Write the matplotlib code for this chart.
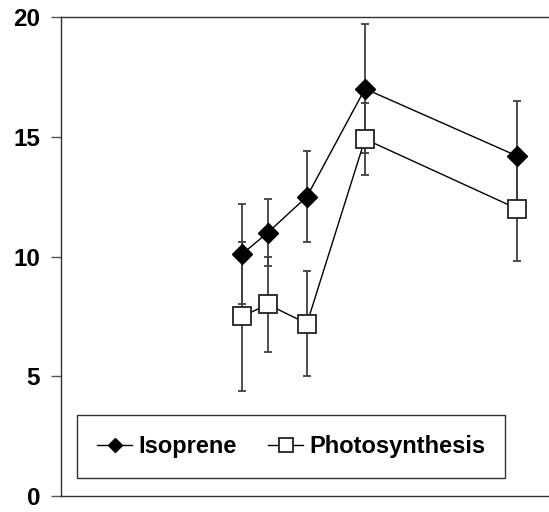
import matplotlib.pyplot as plt

plt.rcParams['font.family'] = ['Liberation Sans', 'DejaVu Sans']
plt.rcParams['font.weight'] = 'bold'

# x positions of the sampling points (no labels on the x axis)
x_pos = [37.1, 42.4, 50.4, 62.3, 93.4]

isoprene = [10.1, 11.0, 12.5, 17.0, 14.2]
isoprene_err = [2.1, 1.4, 1.9, 2.7, 2.3]

photosynthesis = [7.5, 8.0, 7.2, 14.9, 12.0]
photosynthesis_err = [3.1, 2.0, 2.2, 1.5, 2.2]

y_ticks = [0, 5, 10, 15, 20]

fig = plt.figure(figsize=(5.49, 5.12), dpi=100)
ax = fig.add_axes([0.111, 0.031, 0.889, 0.936])

err_col = '#404040'
ax.errorbar(x_pos, isoprene, yerr=isoprene_err, fmt='none', ecolor=err_col,
            elinewidth=1.3, capsize=3, capthick=1.3, zorder=1)
ax.errorbar(x_pos, photosynthesis, yerr=photosynthesis_err, fmt='none', ecolor=err_col,
            elinewidth=1.3, capsize=3, capthick=1.3, zorder=1)

ax.plot(x_pos, isoprene, color='black', lw=1, marker='D', markersize=10,
        markerfacecolor='black', markeredgecolor='black', label='Isoprene', zorder=3)
ax.plot(x_pos, photosynthesis, color='black', lw=1, marker='s', markersize=13.5,
        markerfacecolor='white', markeredgecolor='#222222', markeredgewidth=1.3,
        label='Photosynthesis', zorder=3)

ax.set_xlim(0, 100)
ax.set_ylim(0, 20)
ax.set_yticks(y_ticks)
ax.set_xticks([])
ax.tick_params(axis='y', labelsize=17.5, length=7, width=1, color='#555555', pad=8)
for lab in ax.get_yticklabels():
    lab.set_fontweight('bold')

ax.spines['right'].set_visible(False)
for s in ['left', 'top', 'bottom']:
    ax.spines[s].set_color('#333333')
    ax.spines[s].set_linewidth(1)

leg = ax.legend(loc='lower left', bbox_to_anchor=(0.033, 0.037),
                borderaxespad=0, ncol=2, fontsize=17,
                frameon=True, fancybox=False, edgecolor='black',
                handlelength=1.48, handletextpad=0.25, columnspacing=1.35,
                borderpad=0.85, markerscale=0.75)
leg.get_frame().set_linewidth(1)
for t in leg.get_texts():
    t.set_fontweight('bold')

fig.savefig('out.png', dpi=100)
